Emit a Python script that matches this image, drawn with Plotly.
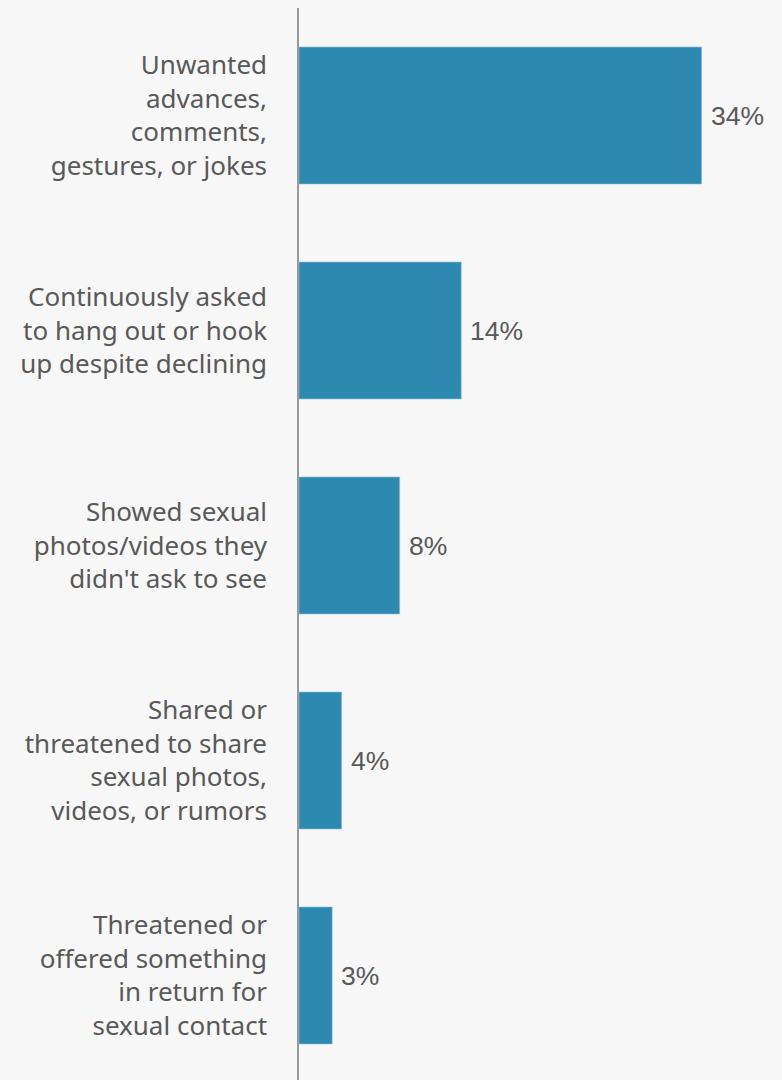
import plotly.graph_objects as go

categories = [
    "Unwanted<br>advances,<br>comments,<br>gestures, or jokes",
    "Continuously asked<br>to hang out or hook<br>up despite declining",
    "Showed sexual<br>photos/videos they<br>didn't ask to see",
    "Shared or<br>threatened to share<br>sexual photos,<br>videos, or rumors",
    "Threatened or<br>offered something<br>in return for<br>sexual contact",
]
values = [34.0, 13.7, 8.5, 3.6, 2.8]
value_labels = ["34%", "14%", "8%", "4%", "3%"]

BAR_COLOR = "#2e89b0"
BG = "#f7f7f7"
TEXT = "#595959"

fig = go.Figure(
    go.Bar(
        x=values,
        y=categories,
        orientation="h",
        marker=dict(color=BAR_COLOR, line=dict(color="#8cbcd4", width=0.6)),
        hoverinfo="skip",
    )
)

for v, c, lab in zip(values, categories, value_labels):
    fig.add_annotation(
        x=v, y=c, text=lab, showarrow=False, xanchor="left", yanchor="middle",
        xshift=7, font=dict(family="Liberation Sans, Arial, sans-serif", size=26.5, color=TEXT),
    )

fig.update_layout(
    width=782,
    height=1080,
    margin=dict(l=299, r=0, t=8, b=0),
    paper_bgcolor=BG,
    plot_bgcolor=BG,
    bargap=0.363,
    showlegend=False,
    xaxis=dict(range=[0, 40.79], visible=False, fixedrange=True),
    yaxis=dict(
        type="category",
        range=[4.486, -0.5],
        showline=True,
        linecolor="#999999",
        linewidth=1.5,
        showgrid=False,
        zeroline=False,
        ticks="",
        ticklabelstandoff=25,
        tickfont=dict(family="Noto Sans, Open Sans, sans-serif", size=26, color=TEXT),
        fixedrange=True,
    ),
)

fig.write_html("out.html", config={"displayModeBar": False})

# remove the default page margin so the figure fills the window
with open("out.html", "r", encoding="utf-8") as f:
    html = f.read()
html = html.replace(
    "<head>",
    "<head><style>html,body{margin:0;padding:0;background:%s;overflow:hidden}</style>" % BG,
    1,
)
with open("out.html", "w", encoding="utf-8") as f:
    f.write(html)
